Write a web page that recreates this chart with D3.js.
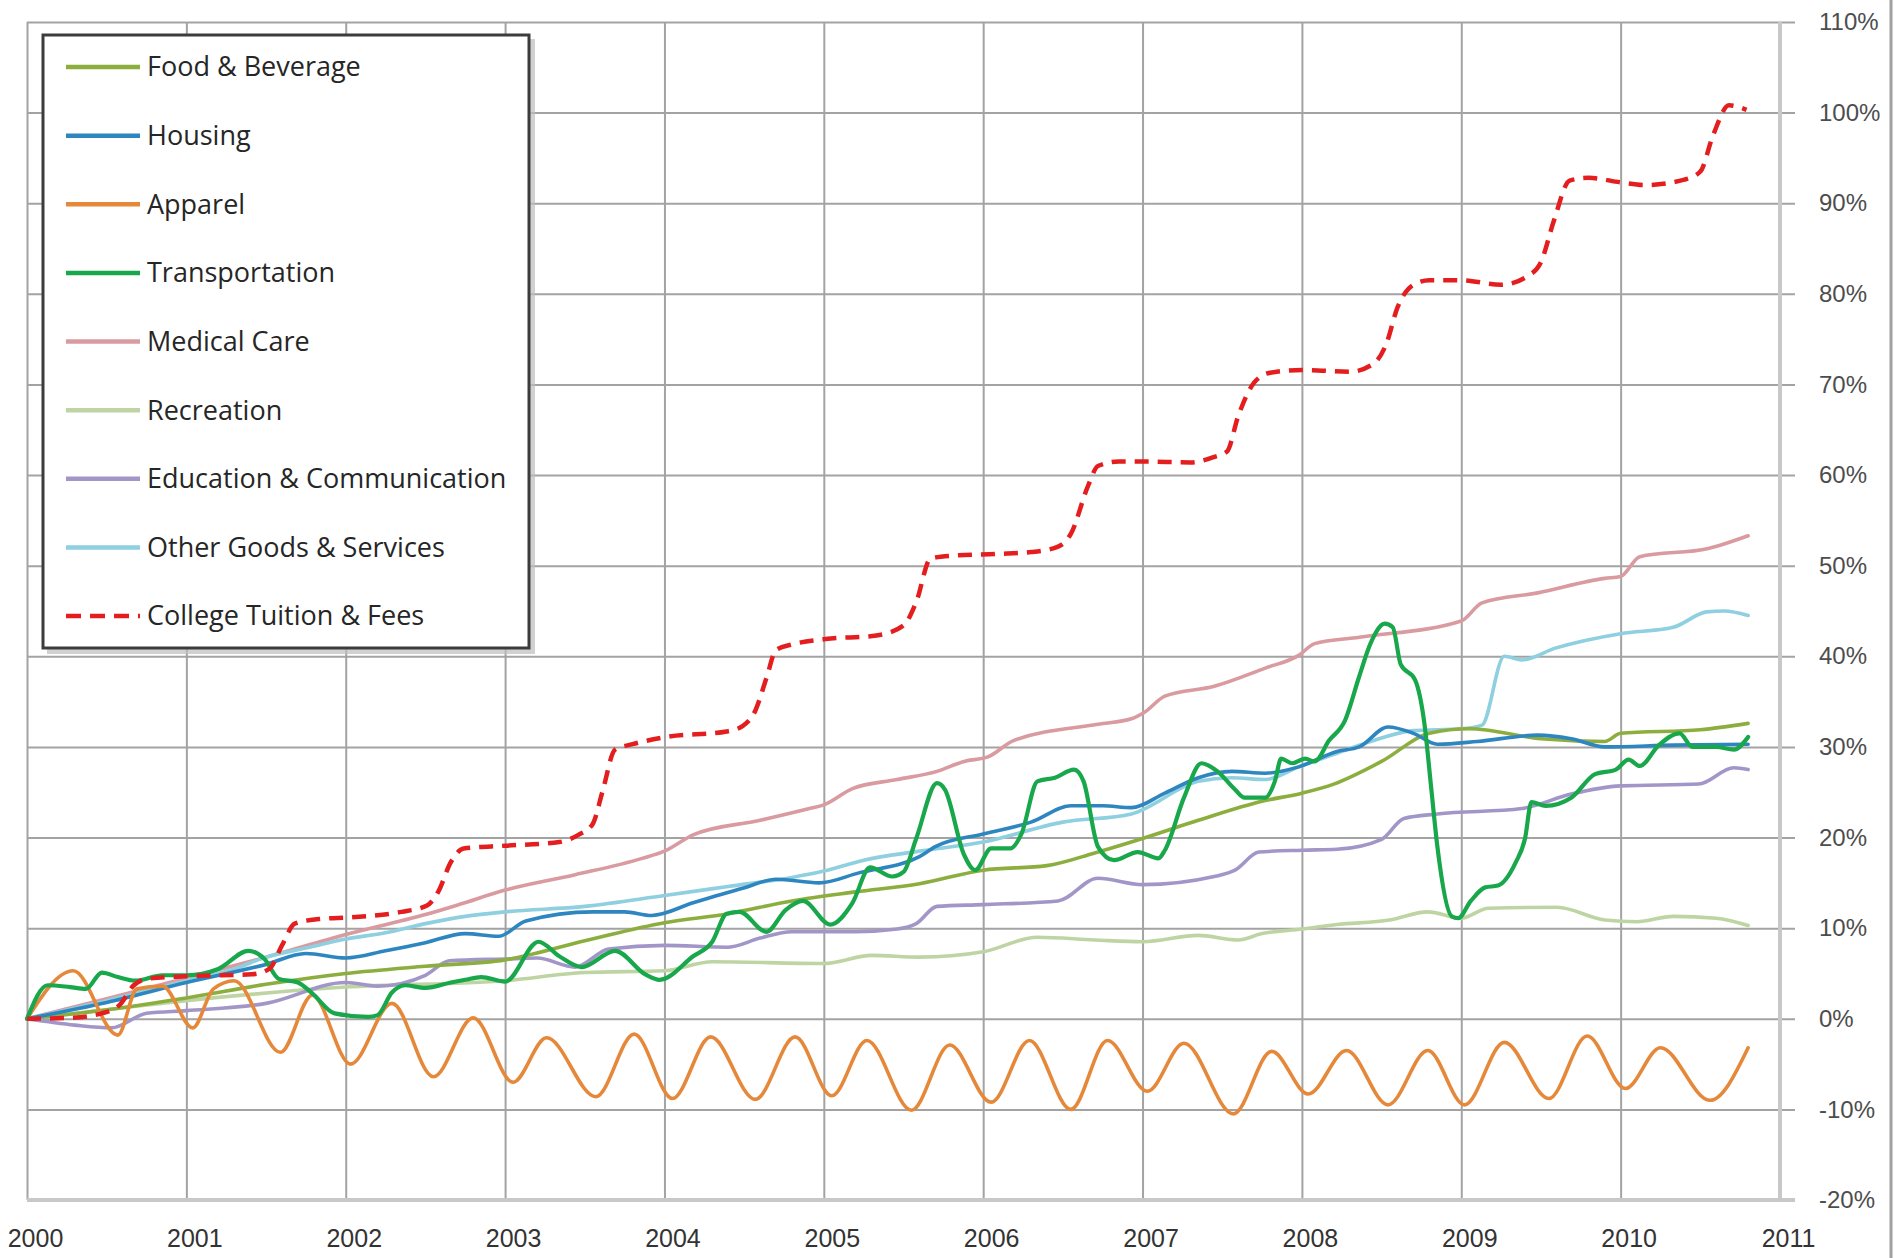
<!DOCTYPE html>
<html><head><meta charset="utf-8">
<script src="https://cdn.jsdelivr.net/npm/d3@7"></script>
<style>body{margin:0;background:#fff}</style>
</head><body><svg id="c" width="1902" height="1258"></svg>
<script>
// ---- data ----
const yearTicks = [2000,2001,2002,2003,2004,2005,2006,2007,2008,2009,2010,2011];
const pctTicks = [-20,-10,0,10,20,30,40,50,60,70,80,90,100,110];
const seriesNames = ["Food & Beverage","Housing","Apparel","Transportation","Medical Care","Recreation","Education & Communication","Other Goods & Services","College Tuition & Fees"];
const seriesColors = ["#8cae3e","#2e86c1","#e5883a","#18a74b","#d99aa0","#bed5a3","#a296c8","#8ecfe0","#e41e1e"];

const food = [[2000.0,0],[2000.5,1.0],[2001.0,2.3],[2001.5,3.8],[2002.0,5.0],[2002.5,5.8],[2003.0,6.5],[2003.5,8.6],[2004.0,10.6],[2004.4,11.6],[2004.8,13.0],[2005.2,14.0],[2005.6,14.9],[2006.0,16.4],[2006.4,16.9],[2006.7,18.3],[2007.0,19.9],[2007.35,21.9],[2007.75,24.0],[2008.0,24.9],[2008.2,25.9],[2008.5,28.4],[2008.8,31.5],[2009.05,32.0],[2009.5,30.9],[2009.9,30.6],[2010.0,31.5],[2010.5,31.9],[2010.8,32.6]];
const housing = [[2000.0,0],[2000.5,1.8],[2001.0,4.0],[2001.5,6.0],[2001.75,7.2],[2002.0,6.7],[2002.25,7.5],[2002.5,8.4],[2002.75,9.4],[2002.96,9.1],[2003.13,10.8],[2003.55,11.8],[2003.75,11.8],[2003.92,11.4],[2004.18,12.8],[2004.49,14.4],[2004.7,15.4],[2004.97,15.0],[2005.22,16.1],[2005.6,17.9],[2005.7,19.0],[2006.0,20.4],[2006.3,21.7],[2006.55,23.5],[2006.75,23.5],[2006.93,23.3],[2007.14,24.9],[2007.35,26.6],[2007.56,27.3],[2007.77,27.1],[2007.98,27.8],[2008.22,29.5],[2008.36,30.0],[2008.54,32.2],[2008.7,31.5],[2008.85,30.3],[2009.1,30.6],[2009.48,31.3],[2009.69,30.9],[2009.9,30.0],[2010.33,30.2],[2010.8,30.3]];
const apparel = [[2000.0,0],[2000.29,5.3],[2000.57,-1.8],[2000.69,3.3],[2000.85,3.6],[2001.04,-1.0],[2001.17,3.3],[2001.3,4.2],[2001.59,-3.7],[2001.79,2.6],[2002.03,-5.0],[2002.29,1.7],[2002.55,-6.4],[2002.8,0.1],[2003.05,-7.0],[2003.26,-2.1],[2003.57,-8.6],[2003.81,-1.7],[2004.05,-8.8],[2004.29,-2.0],[2004.57,-8.9],[2004.82,-2.0],[2005.05,-8.5],[2005.27,-2.4],[2005.55,-10.1],[2005.79,-2.9],[2006.05,-9.2],[2006.29,-2.4],[2006.55,-10.0],[2006.78,-2.4],[2007.03,-8.0],[2007.26,-2.7],[2007.57,-10.5],[2007.81,-3.6],[2008.04,-8.3],[2008.28,-3.5],[2008.54,-9.5],[2008.79,-3.5],[2009.02,-9.5],[2009.27,-2.6],[2009.55,-8.8],[2009.79,-1.9],[2010.03,-7.7],[2010.25,-3.2],[2010.56,-9.0],[2010.8,-3.2]];
const transportation = [[2000.0,0],[2000.13,3.7],[2000.27,3.5],[2000.37,3.3],[2000.47,5.1],[2000.57,4.6],[2000.68,4.2],[2000.85,4.8],[2001.0,4.8],[2001.2,5.5],[2001.39,7.5],[2001.49,6.6],[2001.58,4.4],[2001.7,4.0],[2001.79,2.8],[2001.93,0.6],[2002.14,0.2],[2002.2,0.4],[2002.29,2.9],[2002.37,3.7],[2002.5,3.4],[2002.66,4.0],[2002.75,4.3],[2002.85,4.6],[2003.0,4.1],[2003.21,8.5],[2003.34,6.9],[2003.48,5.7],[2003.69,7.5],[2003.88,4.9],[2003.97,4.3],[2004.18,6.9],[2004.3,8.5],[2004.39,11.6],[2004.47,11.8],[2004.64,9.6],[2004.76,12.0],[2004.87,13.0],[2005.04,10.4],[2005.18,12.8],[2005.29,16.7],[2005.43,15.7],[2005.5,16.2],[2005.58,19.9],[2005.71,26.0],[2005.76,25.3],[2005.88,18.1],[2005.95,16.4],[2006.05,18.8],[2006.17,18.8],[2006.24,20.4],[2006.34,26.2],[2006.45,26.6],[2006.57,27.5],[2006.63,26.2],[2006.72,19.0],[2006.82,17.5],[2006.97,18.4],[2007.1,17.7],[2007.14,18.6],[2007.26,24.4],[2007.37,28.2],[2007.47,27.3],[2007.58,25.3],[2007.64,24.4],[2007.77,24.4],[2007.83,26.2],[2007.87,28.7],[2007.94,28.2],[2008.02,28.7],[2008.08,28.4],[2008.17,30.7],[2008.27,32.9],[2008.36,37.8],[2008.43,41.4],[2008.52,43.6],[2008.57,43.2],[2008.62,39.1],[2008.71,37.4],[2008.77,32.4],[2008.81,25.7],[2008.85,19.0],[2008.94,11.3],[2008.98,11.1],[2009.06,13.0],[2009.15,14.5],[2009.23,14.7],[2009.34,17.2],[2009.4,19.9],[2009.44,23.9],[2009.53,23.5],[2009.69,24.4],[2009.84,27.0],[2009.97,27.5],[2010.05,28.6],[2010.12,27.9],[2010.24,30.2],[2010.37,31.5],[2010.45,30.0],[2010.6,30.0],[2010.71,29.7],[2010.8,31.1]];
const medical = [[2000.0,0],[2000.5,2.2],[2001.0,4.5],[2001.5,6.8],[2002.0,9.3],[2002.5,11.5],[2002.71,12.6],[2003.0,14.2],[2003.44,15.9],[2003.86,17.7],[2004.0,18.5],[2004.18,20.3],[2004.6,21.9],[2004.91,23.2],[2005.0,23.6],[2005.18,25.4],[2005.46,26.4],[2005.71,27.3],[2005.88,28.4],[2006.03,28.9],[2006.19,30.7],[2006.72,32.5],[2006.93,33.1],[2007.01,33.8],[2007.14,35.6],[2007.45,36.7],[2007.77,38.7],[2007.98,40.1],[2008.08,41.4],[2008.36,42.1],[2009.0,43.9],[2009.13,45.9],[2009.48,47.0],[2009.9,48.6],[2010.0,48.8],[2010.12,51.0],[2010.55,51.9],[2010.8,53.3]];
const recreation = [[2000.0,0],[2000.5,1.0],[2001.0,2.0],[2002.0,3.5],[2003.0,4.2],[2003.5,5.1],[2004.0,5.3],[2004.3,6.3],[2005.0,6.1],[2005.3,7.0],[2005.6,6.8],[2006.0,7.4],[2006.34,9.0],[2006.7,8.7],[2007.0,8.5],[2007.35,9.2],[2007.6,8.7],[2007.75,9.4],[2008.0,9.9],[2008.22,10.4],[2008.55,10.9],[2008.79,11.8],[2009.0,11.1],[2009.17,12.2],[2009.6,12.3],[2009.9,10.9],[2010.1,10.7],[2010.33,11.3],[2010.6,11.1],[2010.8,10.3]];
const education = [[2000.0,0],[2000.3,-0.7],[2000.53,-1.0],[2000.75,0.6],[2001.0,0.9],[2001.5,1.7],[2002.0,4.0],[2002.2,3.6],[2002.5,4.8],[2002.65,6.4],[2003.0,6.6],[2003.2,6.7],[2003.44,5.7],[2003.65,7.7],[2004.0,8.1],[2004.4,7.9],[2004.6,8.9],[2004.8,9.6],[2005.2,9.6],[2005.46,9.9],[2005.58,10.5],[2005.71,12.4],[2006.0,12.6],[2006.47,13.0],[2006.72,15.5],[2007.0,14.8],[2007.45,15.7],[2007.58,16.4],[2007.73,18.4],[2008.0,18.6],[2008.22,18.7],[2008.5,19.8],[2008.64,22.1],[2008.85,22.6],[2009.38,23.2],[2009.69,24.8],[2010.0,25.7],[2010.49,25.9],[2010.71,27.7],[2010.8,27.5]];
const otherGoods = [[2000.0,0],[2000.5,2.0],[2001.0,4.2],[2001.3,5.5],[2001.5,6.8],[2001.75,7.8],[2002.0,8.8],[2002.25,9.5],[2002.5,10.5],[2002.75,11.3],[2003.0,11.8],[2003.5,12.4],[2004.0,13.6],[2004.4,14.6],[2004.8,15.6],[2005.0,16.3],[2005.25,17.5],[2005.6,18.5],[2006.0,19.5],[2006.5,21.7],[2006.93,22.6],[2007.35,26.2],[2007.56,26.6],[2007.77,26.4],[2007.98,27.8],[2008.22,29.3],[2008.43,30.6],[2008.7,31.8],[2009.0,32.0],[2009.13,32.4],[2009.27,40.0],[2009.38,39.6],[2009.59,40.9],[2010.0,42.5],[2010.33,43.2],[2010.54,44.9],[2010.65,45.0],[2010.8,44.5]];
const tuition = [[2000.0,0],[2000.27,0.1],[2000.47,0.6],[2000.58,1.5],[2000.67,3.7],[2000.75,4.4],[2001.0,4.7],[2001.41,4.9],[2001.52,5.5],[2001.6,8.1],[2001.68,10.5],[2001.83,11.0],[2002.04,11.2],[2002.35,11.8],[2002.51,12.5],[2002.58,14.0],[2002.66,17.3],[2002.74,18.8],[2003.0,19.1],[2003.34,19.5],[2003.46,20.3],[2003.55,21.5],[2003.61,25.0],[2003.69,29.7],[2003.8,30.3],[2004.01,31.1],[2004.39,31.7],[2004.49,32.3],[2004.57,34.0],[2004.64,37.6],[2004.7,40.7],[2004.8,41.3],[2005.01,41.9],[2005.33,42.3],[2005.5,43.4],[2005.58,46.0],[2005.67,50.8],[2005.8,51.1],[2006.09,51.3],[2006.3,51.5],[2006.47,52.1],[2006.55,53.5],[2006.66,58.9],[2006.72,61.0],[2006.85,61.5],[2007.0,61.5],[2007.3,61.4],[2007.45,62.0],[2007.53,62.6],[2007.6,66.5],[2007.7,70.2],[2007.8,71.3],[2008.0,71.6],[2008.3,71.4],[2008.45,72.3],[2008.53,74.5],[2008.6,78.5],[2008.7,81.0],[2008.8,81.5],[2009.0,81.5],[2009.25,81.0],[2009.42,82.0],[2009.5,83.5],[2009.58,88.0],[2009.68,92.5],[2009.8,92.8],[2010.0,92.3],[2010.15,92.0],[2010.4,92.6],[2010.5,93.5],[2010.58,97.5],[2010.68,100.8],[2010.79,100.3]];

const seriesData = [food, housing, apparel, transportation, medical, recreation, education, otherGoods, tuition];

// ---- drawing ----
const svg = d3.select("#c");
svg.append("rect").attr("width",1902).attr("height",1258).attr("fill","#fff");

const x = d3.scaleLinear().domain([2000, 2011]).range([27, 1780]);
const y = d3.scaleLinear().domain([-20, 110]).range([1200, 22]);

// vertical gridlines + year labels
const xAxis = d3.axisBottom(x).tickValues(yearTicks).tickFormat(d3.format("d"))
  .tickSize(-(y(-20) - y(110))).tickPadding(29);
const gx = svg.append("g").attr("transform", `translate(0,${y(-20)})`).call(xAxis);
gx.select(".domain").remove();
gx.selectAll(".tick line").attr("stroke", "#a3a3a3").attr("stroke-width", 2);
gx.selectAll(".tick text").attr("font-family", "Liberation Sans, Arial, sans-serif")
  .attr("font-size", 25).attr("fill", "#333").attr("dx", 8);

// horizontal gridlines + right labels
const yAxis = d3.axisRight(y).tickValues(pctTicks).tickFormat(d => d + "%")
  .tickSize(-(1795 - 27)).tickPadding(24);
const gy = svg.append("g").attr("transform", "translate(1795,0)").call(yAxis);
gy.select(".domain").remove();
gy.selectAll(".tick line").attr("stroke", "#a3a3a3").attr("stroke-width", 2);
gy.selectAll(".tick text").attr("font-family", "Liberation Sans, Arial, sans-serif")
  .attr("font-size", 24).attr("fill", "#4d4d4d");

// axis lines (bottom and right of plot)
svg.append("line").attr("x1", x(2000)).attr("x2", 1795).attr("y1", y(-20)).attr("y2", y(-20))
  .attr("stroke", "#c8c8c8").attr("stroke-width", 4);
svg.append("line").attr("x1", x(2011)).attr("x2", x(2011)).attr("y1", y(110)).attr("y2", y(-20))
  .attr("stroke", "#c8c8c8").attr("stroke-width", 4);
// right image border
svg.append("line").attr("x1", 1891).attr("x2", 1891).attr("y1", 0).attr("y2", 1258)
  .attr("stroke", "#a0a0a0").attr("stroke-width", 3);

// series lines
const line = d3.line().x(d => x(d[0])).y(d => y(d[1])).curve(d3.curveMonotoneX);
const drawOrder = [4, 5, 6, 7, 0, 1, 2, 3, 8];
drawOrder.forEach(i => {
  const p = svg.append("path").datum(seriesData[i]).attr("d", line)
    .attr("fill", "none").attr("stroke", seriesColors[i])
    .attr("stroke-width", i === 3 ? 4.2 : (i === 8 ? 4.5 : 3.6))
    .attr("stroke-linejoin", "round").attr("stroke-linecap", "round");
  if (i === 8) p.attr("stroke-dasharray", "14,9").attr("stroke-linecap", "butt");
});

// legend
const lg = svg.append("g");
lg.append("rect").attr("x", 47).attr("y", 39).attr("width", 488).attr("height", 615).attr("fill", "#bdbdbd").attr("opacity", 0.7);
lg.append("rect").attr("x", 43).attr("y", 35).attr("width", 486).attr("height", 613)
  .attr("fill", "#fff").attr("stroke", "#3c3c3c").attr("stroke-width", 3);
const rowY = d3.scalePoint().domain(d3.range(seriesNames.length)).range([67, 616]);
seriesNames.forEach((n, i) => {
  const l = lg.append("line").attr("x1", 66).attr("x2", 140).attr("y1", rowY(i)).attr("y2", rowY(i))
    .attr("stroke", seriesColors[i]).attr("stroke-width", 4.5);
  if (i === 8) l.attr("stroke-dasharray", "15,9");
  lg.append("text").attr("x", 147).attr("y", rowY(i)).attr("dy", "0.35em")
    .attr("font-family", "Open Sans, sans-serif").attr("font-size", 27).attr("fill", "#262626").text(n);
});
</script></body></html>
